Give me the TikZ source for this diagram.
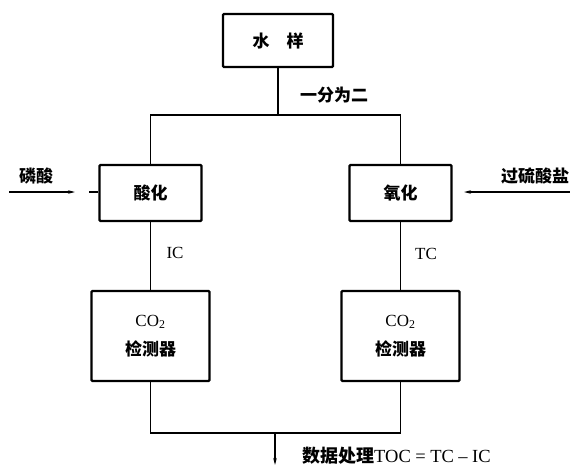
\documentclass[tikz,border=0pt]{standalone}
\usepackage{fontspec}
\setmainfont{Liberation Serif}
\newfontfamily\cjk{Noto Sans CJK SC}
\usetikzlibrary{arrows.meta}
\begin{document}
\begin{tikzpicture}[x=1pt,y=-1pt,
  box/.style={draw,line width=2.4pt,rounded corners=1pt,align=center,inner sep=0pt,
    font=\fontsize{17}{20}\selectfont},
  conn/.style={line width=1.1pt},
  arr/.style={line width=1.1pt,-{Stealth[length=7pt,width=3.5pt]}},
  lbl/.style={inner sep=0pt,font=\fontsize{17}{20}\selectfont}]
\useasboundingbox (0,0) rectangle (570,466);
\node[box,minimum width=110pt,minimum height=53pt] (water) at (278,40.5) {\cjk\bfseries 水\quad 样};
\node[box,minimum width=102pt,minimum height=56pt] (acid) at (150.5,193) {\cjk\bfseries 酸化};
\node[box,minimum width=102pt,minimum height=56pt] (oxid) at (400.5,193) {\cjk\bfseries 氧化};
\node[box,minimum width=118pt,minimum height=90pt] (detL) at (150.5,336) {CO\textsubscript{2}\\[9pt]{\cjk\bfseries 检测器}};
\node[box,minimum width=118pt,minimum height=90pt] (detR) at (400.5,336) {CO\textsubscript{2}\\[9pt]{\cjk\bfseries 检测器}};
% labels
\node[lbl] (split) at (334,95) {\cjk\bfseries 一分为二};
\node[lbl] (ic) at (175,253) {IC};
\node[lbl] (tc) at (426,254) {TC};
\node[lbl] (p) at (36,176) {\cjk\bfseries 磷酸};
\node[lbl] (s) at (535,176) {\cjk\bfseries 过硫酸盐};
\node[lbl,anchor=west,font=\fontsize{18}{19}\selectfont] (data) at (302,456) {{\cjk\bfseries 数据处理}{\fontsize{18.5}{19}\selectfont TOC\hspace{4.5pt}=\hspace{4.5pt}TC\hspace{4.5pt}--\hspace{4.5pt}IC}};
% connectors
\coordinate (sL) at (150.5,115);
\coordinate (sR) at (400.5,115);
\draw[conn] (water.south) -- (water.south |- sL);
\draw[conn] (acid.north) -- (sL) -- (sR) -- (oxid.north);
\draw[conn] (acid) -- (detL);
\draw[conn] (oxid) -- (detR);
\coordinate (jL) at (150.5,433);
\coordinate (jR) at (400.5,433);
\draw[conn] (detL.south) -- (jL) -- (jR) -- (detR.south);
\coordinate (out) at (275,465);
\draw[arr] (out |- jL) -- (out);
% inputs
\coordinate (pA) at (9,192);
\coordinate (pB) at (75,192);
\coordinate (pC) at (89,192);
\draw[arr] (pA) -- (pB);
\draw[conn] (pC) -- (pC -| acid.west);
\coordinate (sA) at (570,192);
\coordinate (sB) at (464,192);
\draw[arr] (sA) -- (sB);
\end{tikzpicture}
\end{document}
